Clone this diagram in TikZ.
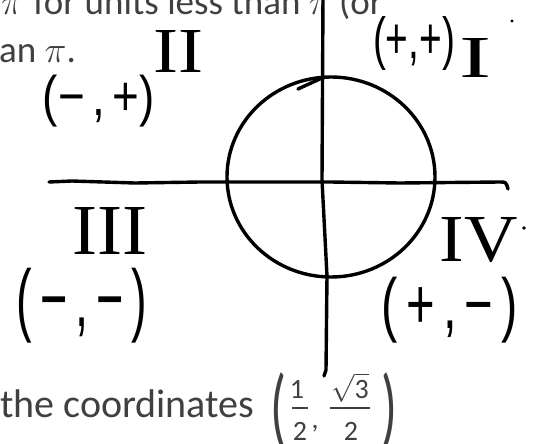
\documentclass[tikz,border=0pt]{standalone}
\usepackage{fix-cm}
\usepackage{fontspec}
\usepackage{graphicx}
\setmainfont{Carlito}
\newfontfamily\handfont{Liberation Sans}
\newfontfamily\numfont{Liberation Serif}
\definecolor{txtgray}{RGB}{64,64,64}
\tikzset{
  ink/.style={line width=3.4pt, line cap=round, line join=round, draw=black},
  doc/.style={text=txtgray, inner sep=0pt, font=\fontsize{37}{45}\selectfont},
  docb/.style={text=txtgray, inner sep=0pt, font=\fontsize{40}{48}\selectfont},
  fr/.style={text=txtgray, inner sep=0pt, font=\fontsize{28}{30}\selectfont},
  bigparen/.style={text=txtgray, inner sep=0pt, font=\fontsize{40}{40}\selectfont},
  fracbar/.style={draw=txtgray, line width=2pt},
  hand/.style={inner sep=0pt, text=black},
}
\newcommand{\fitbox}[3]{\resizebox*{#1pt}{#2pt}{#3}}
\begin{document}
\begin{tikzpicture}[x=1pt,y=-1pt]
\useasboundingbox (0,0) rectangle (536,444);
\clip (0,0) rectangle (536,444);
% printed text
\node[doc, anchor=base west] (l1) at (1,15) {$\pi$\kern2pt{} for units less than $\pi$ (or};
\node[doc, anchor=base west] (l2) at (-1,63) {an $\pi$.};
\node[docb, anchor=base west] (l3) at (0,417) {the coordinates};
% fraction pair (1/2, sqrt3/2)
\node[bigparen] (lp) at (278,411) {\fitbox{16}{76}{(}};
\node[fr, anchor=base] (n1) at (297,398) {1};
\node[fr, anchor=base] (d1) at (300,440) {2};
\draw[fracbar] (292,408) -- (308,408);
\node[fr, anchor=base] (cm) at (315,428) {,};
\node[fr, anchor=base] (n2) at (350,398) {$\sqrt{\hbox{3}}$};
\node[fr, anchor=base] (d2) at (351,440) {2};
\draw[fracbar] (330,408) -- (370,408);
\node[bigparen] (rp) at (389,411) {\fitbox{16}{76}{)}};
% axes and circle
\draw[ink] (323,-3) -- (322,180) -- (327,276) -- (326,370) -- (324,376);
\draw[ink] (49,182) -- (72,181) -- (135,183) -- (200,182) -- (330,182) -- (400,183) -- (500,182) .. controls (506,182) .. (508,189);
\draw[ink] (331,177) ellipse [x radius=104, y radius=100];
\draw[ink] (298,89) -- (322,78);
% handwritten labels
\node[hand] (q2) at (178,51) {\fitbox{50}{42}{\numfont II}};
\node[hand] (s2) at (99,101) {\fitbox{112}{52}{\handfont(−\,,\,+)}};
\node[hand] (s1) at (414,43) {\fitbox{82}{54}{\handfont(+,+)}};
\node[hand] (q1) at (476,58) {\fitbox{32}{39}{\numfont I}};
\node[hand] (q3) at (110,231) {\fitbox{75}{47}{\numfont III}};
\node[hand] (s3) at (82,306) {\fitbox{130}{75}{\handfont(\,−\,,\,−\,)}};
\node[hand] (q4) at (479,240) {\fitbox{78}{45}{\numfont IV}};
\node[hand] (s4) at (450,310) {\fitbox{136}{66}{\handfont(\,+\,,\,−\,)}};
\fill (512,21) circle [radius=1.6];
\fill (524,228) circle [radius=1.8];
\end{tikzpicture}
\end{document}
